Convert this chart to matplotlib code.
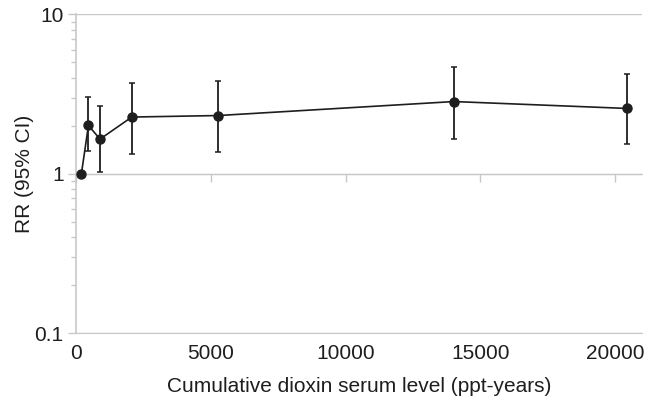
import matplotlib
matplotlib.use('Agg')
import matplotlib.pyplot as plt
from matplotlib.ticker import LogLocator, NullFormatter, FixedLocator

plt.rcParams['font.family'] = ['Liberation Sans', 'DejaVu Sans']

# cumulative dioxin serum level (ppt-years) and relative risk with 95% CI
dose = [200, 460, 890, 2070, 5270, 14020, 20460]
rr = [1.0, 2.01, 1.65, 2.27, 2.32, 2.84, 2.57]
ciLow = [1.0, 1.38, 1.03, 1.34, 1.37, 1.65, 1.54]
ciHigh = [1.0, 3.04, 2.68, 3.73, 3.81, 4.71, 4.21]
xTicks = [0, 5000, 10000, 15000, 20000]
yTicks = [0.1, 1, 10]
yTickLabels = ['0.1', '1', '10']

grey = '#c8c8c8'
ink = '#1e1e1e'
fs = 15

fig = plt.figure(figsize=(6.52, 3.97), dpi=100)
ax = fig.add_axes([0.1166, 0.1612, 0.8681, 0.8023])

errLow = [r - lo for r, lo in zip(rr, ciLow)]
errHigh = [hi - r for r, hi in zip(rr, ciHigh)]
ax.errorbar(dose[1:], rr[1:], yerr=[errLow[1:], errHigh[1:]], fmt='none',
            ecolor=ink, elinewidth=1.3, capsize=2, capthick=1.1, zorder=3)
ax.plot(dose, rr, color=ink, linewidth=1.2, marker='o', markersize=6.5,
        markerfacecolor=ink, markeredgecolor=ink, zorder=4)

ax.set_yscale('log')
ax.set_ylim(0.1, 10)
ax.set_xlim(0, 21000)

ax.set_yticks(yTicks)
ax.set_yticklabels(yTickLabels)
ax.yaxis.set_minor_locator(LogLocator(base=10, subs=range(2, 10)))
ax.yaxis.set_minor_formatter(NullFormatter())
ax.tick_params(axis='y', which='major', length=6, width=1, color=grey,
               labelsize=fs, pad=3, labelcolor=ink)
ax.tick_params(axis='y', which='minor', length=3.5, width=1, color=grey)
ax.grid(axis='y', which='major', color=grey, linewidth=1)
ax.set_axisbelow(True)

# x axis crosses at RR = 1 with ticks; labels sit at the bottom
ax.spines['bottom'].set_position(('data', 1))
ax.spines['bottom'].set_color(grey)
ax.spines['left'].set_color(grey)
ax.spines['left'].set_linewidth(1.2)
for side in ['top', 'right']:
    ax.spines[side].set_visible(False)
ax.xaxis.set_major_locator(FixedLocator(xTicks))
ax.tick_params(axis='x', which='major', length=6, width=1, color=grey,
               labelbottom=False)

sec = ax.secondary_xaxis(0)
sec.set_xticks(xTicks)
sec.set_xticklabels([str(t) for t in xTicks])
sec.tick_params(axis='x', length=0, labelsize=fs, pad=8, labelcolor=ink)
sec.spines['bottom'].set_color(grey)
sec.set_xlabel('Cumulative dioxin serum level (ppt-years)', fontsize=fs,
               color=ink, labelpad=10)

ax.set_ylabel('RR (95% CI)', fontsize=fs, color=ink, labelpad=0)

fig.savefig('out.png', dpi=100)
